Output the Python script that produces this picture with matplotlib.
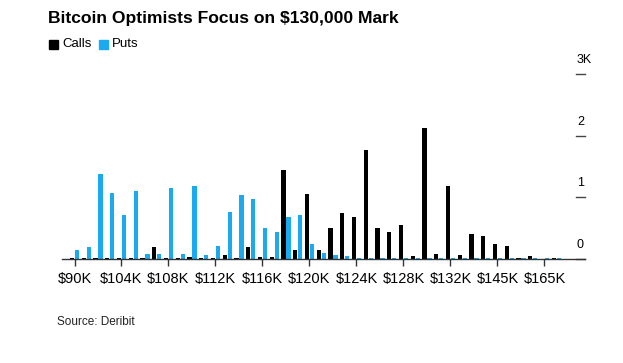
import matplotlib
matplotlib.use('Agg')
import matplotlib.pyplot as plt
import numpy as np
from matplotlib.transforms import blended_transform_factory

# Strike prices in $K
strikes = [90, 95, 100, 102, 104, 105, 106, 107, 108, 109, 110, 111, 112, 113,
           114, 115, 116, 117, 118, 119, 120, 121, 122, 123, 124, 125, 126, 127,
           128, 129, 130, 131, 132, 135, 138, 140, 145, 150, 155, 160, 165, 170]
# Open interest in thousands of contracts
calls = [0.01, 0.01, 0.01, 0.01, 0.01, 0.01, 0.01, 0.20, 0.01, 0.01, 0.03, 0.02,
         0.01, 0.06, 0.01, 0.19, 0.04, 0.04, 1.45, 0.15, 1.06, 0.15, 0.51, 0.74,
         0.68, 1.77, 0.50, 0.44, 0.55, 0.05, 2.13, 0.08, 1.19, 0.06, 0.41, 0.38,
         0.24, 0.21, 0.01, 0.05, 0.005, 0.01]
puts = [0.14, 0.20, 1.38, 1.07, 0.71, 1.10, 0.08, 0.08, 1.16, 0.08, 1.18, 0.065,
        0.21, 0.76, 1.04, 0.97, 0.50, 0.44, 0.68, 0.71, 0.24, 0.10, 0.065, 0.05,
        0.015, 0.01, 0.01, 0.01, 0.01, 0.01, 0.01, 0.01, 0.01, 0.01, 0.01, 0.01,
        0.01, 0.01, 0.01, 0.01, 0.01, 0.01]
yticks = [0, 1, 2, 3]
ytick_labels = ['0', '1', '2', '3K']

plt.rcParams['font.family'] = ['Liberation Sans', 'DejaVu Sans']

W, H = 623, 363
fig = plt.figure(figsize=(W / 100, H / 100), dpi=100)
ax = fig.add_axes([62 / W, 1 - 259 / H, (585 - 62) / W, (259 - 74.3) / H])

x = np.arange(len(strikes))
bw = 0.36
off = 0.213
blue = '#1ba9ef'
ax.bar(x - off, calls, width=bw, color='black', linewidth=0)
ax.bar(x + off, puts, width=bw, color=blue, linewidth=0)

ax.set_xlim(-1.064, 43.45)
ax.set_ylim(0, 3)

for s in ['top', 'right', 'left']:
    ax.spines[s].set_visible(False)
ax.spines['bottom'].set_color('#333333')
ax.spines['bottom'].set_linewidth(1.0)

tick_idx = list(range(0, len(strikes), 4))
ax.set_xticks(tick_idx)
ax.set_xticklabels([f'${strikes[i]}K' for i in tick_idx], fontsize=10.5)
ax.tick_params(axis='x', length=5, width=1, color='#333333', pad=4)
ax.set_yticks([])

trans = blended_transform_factory(ax.transAxes, ax.transData)
x0 = (576 - 62) / (585 - 62)
for v, lab in zip(yticks, ytick_labels):
    ax.plot([x0, 1.0], [v, v], transform=trans, color='#444444', lw=1,
            clip_on=False)
    ax.annotate(lab, xy=(x0, v), xycoords=trans, xytext=(0.7, 6),
                textcoords='offset points', ha='left', va='bottom',
                fontsize=9, color='black', annotation_clip=False)

fig.text(48 / W, 1 - 18 / H, 'Bitcoin Optimists Focus on $130,000 Mark',
         fontsize=12.6, fontweight='bold', ha='left', va='center')

# legend
fig.patches.append(plt.Rectangle((49 / W, 1 - 48.5 / H), 8.5 / W, 8.5 / H,
                                 transform=fig.transFigure, color='black'))
fig.text(62 / W, 1 - 44 / H, 'Calls', fontsize=9.5, ha='left', va='center')
fig.patches.append(plt.Rectangle((99 / W, 1 - 48.5 / H), 8.5 / W, 8.5 / H,
                                 transform=fig.transFigure, color=blue))
fig.text(112 / W, 1 - 44 / H, 'Puts', fontsize=9.5, ha='left', va='center')

fig.text(57 / W, 1 - 322 / H, 'Source: Deribit', fontsize=8.5, ha='left',
         va='center', color='#222222')

fig.savefig('out.png', dpi=100)
